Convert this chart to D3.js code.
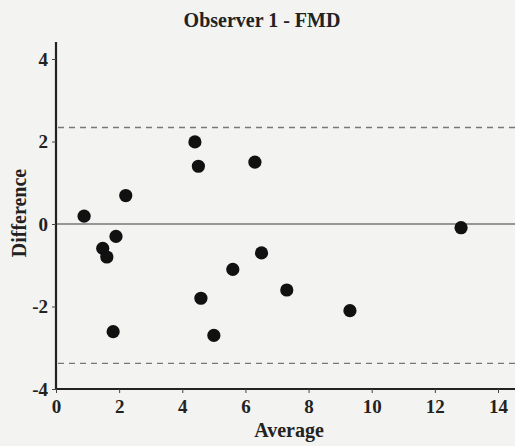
<!DOCTYPE html>
<html>
<head>
<meta charset="utf-8">
<script src="https://cdn.jsdelivr.net/npm/d3@7"></script>
<style>
  body { margin: 0; background: #f3f3f1; }
  svg { display: block; }
  svg text { font-family: "Times New Roman", "Liberation Serif", Times, "DejaVu Serif", serif !important; font-weight: bold; fill: #222; }
</style>
</head>
<body>
<div id="chart"></div>
<script>
// Bland-Altman data: average vs difference
const average = [0.89, 1.48, 1.61, 1.90, 2.21, 1.81, 4.40, 4.51, 4.59, 5.00, 5.60, 6.30, 6.51, 7.31, 9.31, 12.83];
const difference = [0.19, -0.59, -0.80, -0.30, 0.69, -2.61, 1.99, 1.40, -1.80, -2.70, -1.10, 1.50, -0.70, -1.60, -2.10, -0.09];
const limits = [2.34, -3.38];
const xTicks = [0, 2, 4, 6, 8, 10, 12, 14];
const yTicks = [-4, -2, 0, 2, 4];

const width = 515;
const height = 446;

const svg = d3.select("#chart").append("svg")
    .attr("width", width)
    .attr("height", height);

const x = d3.scaleLinear().domain([0, 14]).range([56, 498]);
const y = d3.scaleLinear().domain([-4, 4]).range([389, 59]);

// zero line
svg.append("line")
    .attr("x1", x(0)).attr("x2", width)
    .attr("y1", y(0)).attr("y2", y(0))
    .attr("stroke", "#777")
    .attr("stroke-width", 1.6);

// limits of agreement
svg.append("g")
    .selectAll("line")
    .data(limits)
    .join("line")
    .attr("x1", x(0) + 2).attr("x2", width)
    .attr("y1", d => y(d)).attr("y2", d => y(d))
    .attr("stroke", "#777")
    .attr("stroke-width", 1.3)
    .attr("stroke-dasharray", "6,5");

// axes
const xAxis = svg.append("g")
    .attr("transform", `translate(0,${y(-4)})`)
    .call(d3.axisBottom(x).tickValues(xTicks).tickSize(4).tickFormat(d => String(d)));
xAxis.select(".domain").attr("d", `M${x(0)},0H${width}`);
xAxis.selectAll(".tick text").attr("y", 24).attr("dy", null);

const yAxis = svg.append("g")
    .attr("transform", `translate(${x(0)},0)`)
    .call(d3.axisLeft(y).tickValues(yTicks).tickSize(4).tickPadding(4).tickFormat(d => String(d)));
yAxis.select(".domain").attr("d", `M0,42V${y(-4)}`);

svg.selectAll(".domain").attr("stroke", "#222").attr("stroke-width", 2.2);
svg.selectAll(".tick line").attr("stroke", "#444");
svg.selectAll(".tick text")
    .style("font-size", "19px")
    .attr("fill", "#222");

// points
svg.append("g")
    .selectAll("circle")
    .data(average)
    .join("circle")
    .attr("cx", d => x(d))
    .attr("cy", (d, i) => y(difference[i]))
    .attr("r", 6.6)
    .attr("fill", "#111");

// title and labels
svg.append("text")
    .attr("x", 262).attr("y", 27)
    .attr("text-anchor", "middle")
    .style("font-size", "20px")
    .text("Observer 1 - FMD");

svg.append("text")
    .attr("x", 289).attr("y", 437)
    .attr("text-anchor", "middle")
    .style("font-size", "20px")
    .text("Average");

svg.append("text")
    .attr("transform", "translate(26,213) rotate(-90)")
    .attr("text-anchor", "middle")
    .style("font-size", "20px")
    .text("Difference");
</script>
</body>
</html>
